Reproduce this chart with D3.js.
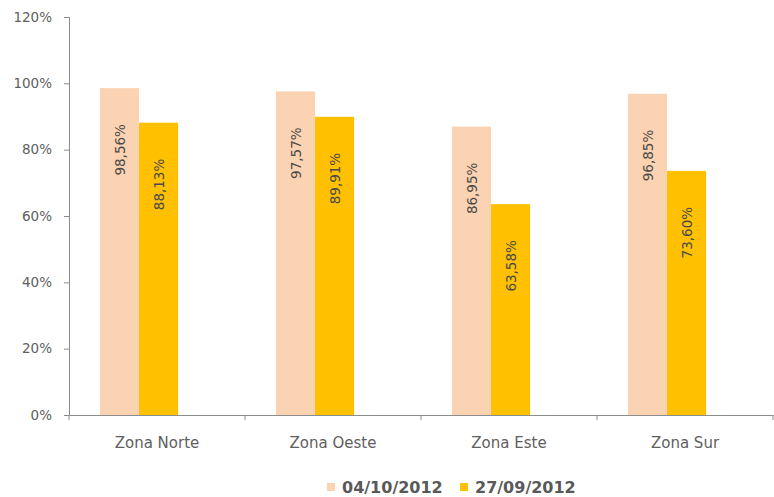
<!DOCTYPE html>
<html>
<head>
<meta charset="utf-8">
<script src="https://cdn.jsdelivr.net/npm/d3@7"></script>
<style>
  body { margin: 0; background: #fff; }
  text { font-family: "DejaVu Sans", sans-serif; }
</style>
</head>
<body>
<div id="chart"></div>
<script>
// data
const zonas = ["Zona Norte", "Zona Oeste", "Zona Este", "Zona Sur"];
const series = ["04/10/2012", "27/09/2012"];
const valores0410 = [98.56, 97.57, 86.95, 96.85];
const valores2709 = [88.13, 89.91, 63.58, 73.60];
const yTicks = [0, 20, 40, 60, 80, 100, 120];

const colores = ["#fbd3b3", "#ffc000"];

// config
const width = 774;
const height = 497;
const plotLeft = 69, plotRight = 773, plotTop = 17, plotBottom = 415;

const svg = d3.select("#chart")
  .append("svg")
  .attr("width", width)
  .attr("height", height)
  .style("background-color", "white");

const x = d3.scaleBand()
  .domain(zonas)
  .range([plotLeft, plotRight])
  .padding(0);

const y = d3.scaleLinear()
  .domain([0, 120])
  .range([plotBottom, plotTop]);

const bw = x.bandwidth();
const barOffset = bw * 0.176;
const barWidth = bw * 0.222;

const rows = zonas.map((z, i) => ({zona: z, vals: [valores0410[i], valores2709[i]]}));

// bars
const groups = svg.append("g")
  .selectAll("g")
  .data(rows)
  .enter().append("g")
  .attr("transform", d => `translate(${x(d.zona)},0)`);

groups.selectAll("rect")
  .data(d => d.vals)
  .enter().append("rect")
  .attr("x", (d, i) => barOffset + i * barWidth)
  .attr("y", d => y(d))
  .attr("width", barWidth)
  .attr("height", d => plotBottom - y(d))
  .attr("fill", (d, i) => colores[i]);

// labels, rotated, reading bottom to top
groups.selectAll("text")
  .data(d => d.vals)
  .enter().append("text")
  .attr("transform", (d, i) => `translate(${barOffset + i * barWidth + barWidth / 2 + 5},${y(d) + 36}) rotate(-90)`)
  .attr("text-anchor", "end")
  .attr("font-size", 13.5)
  .attr("fill", "#4a4a4a")
  .text(d => d.toFixed(2).replace(".", ",") + "%");

// y axis
const yAxis = svg.append("g")
  .attr("transform", `translate(${plotLeft},0)`)
  .call(d3.axisLeft(y).tickValues(yTicks).tickSize(5).tickPadding(12).tickFormat(d => d + "%"));
yAxis.selectAll("text").attr("font-size", 13.5).attr("fill", "#606060").style("font-family", "DejaVu Sans");

// x axis
const xAxis = svg.append("g")
  .attr("transform", `translate(0,${plotBottom})`)
  .call(d3.axisBottom(x).tickSize(0).tickPadding(22));
xAxis.selectAll("text").attr("font-size", 15).attr("fill", "#606060").style("font-family", "DejaVu Sans");

// category separator ticks
xAxis.selectAll(".sep")
  .data(zonas.concat([null]))
  .enter().append("line")
  .attr("class", "sep")
  .attr("x1", d => d === null ? plotRight : x(d))
  .attr("x2", d => d === null ? plotRight : x(d))
  .attr("y1", 0)
  .attr("y2", 5)
  .attr("stroke", "#8c8c8c");

svg.selectAll(".domain").attr("stroke", "#8c8c8c");
svg.selectAll(".tick line").attr("stroke", "#8c8c8c");

// legend
const legendX = [327, 460];
const legend = svg.append("g")
  .selectAll("g")
  .data(series)
  .enter().append("g")
  .attr("transform", (d, i) => `translate(${legendX[i]},483)`);

legend.append("rect")
  .attr("width", 8)
  .attr("height", 8)
  .attr("fill", (d, i) => colores[i]);

legend.append("text")
  .attr("x", 15)
  .attr("y", 4)
  .attr("dy", "0.35em")
  .attr("font-size", 16)
  .attr("font-weight", "bold")
  .attr("fill", "#595959")
  .text(d => d);
</script>
</body>
</html>
